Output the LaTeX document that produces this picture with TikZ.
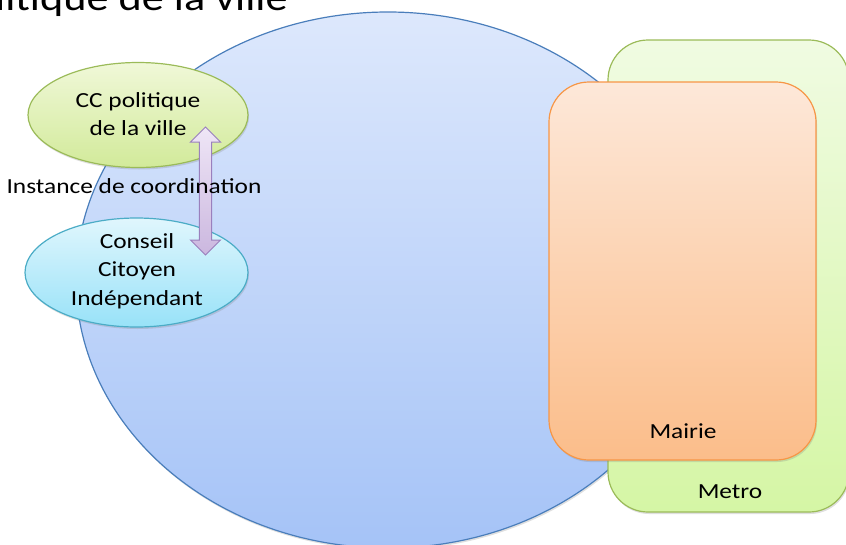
\documentclass[tikz,border=0pt]{standalone}
\usepackage{fontspec}
\setmainfont{Carlito}[FakeStretch=1.18]
\usetikzlibrary{calc,shadows}
\definecolor{circtop}{HTML}{DDE8FC}
\definecolor{circbot}{HTML}{A5C3F7}
\definecolor{circline}{HTML}{4A7EBB}
\definecolor{mettop}{HTML}{F0FBE2}
\definecolor{metbot}{HTML}{D5F6A5}
\definecolor{metline}{HTML}{9BBB59}
\definecolor{maitop}{HTML}{FDE8D9}
\definecolor{maibot}{HTML}{FBBD8A}
\definecolor{mailine}{HTML}{F79646}
\definecolor{cctop}{HTML}{F0F8D8}
\definecolor{ccbot}{HTML}{D2EA9A}
\definecolor{cctop2}{HTML}{E0F6FD}
\definecolor{ccbot2}{HTML}{98E2F8}
\definecolor{cciline}{HTML}{4BACC6}
\definecolor{arrtop}{HTML}{EFE6F6}
\definecolor{arrbot}{HTML}{CBB7DF}
\definecolor{arrline}{HTML}{9A80BD}
\tikzset{
  x=1pt, y=-1pt,
  shad/.style={drop shadow={opacity=0.25, shadow xshift=1pt, shadow yshift=-2pt}},
  txt/.style={font=\fontsize{21.5}{28.5}\selectfont, align=center, text=black, inner sep=0pt},
  boxshape/.style={rectangle, rounded corners=40pt, line width=1.2pt, inner sep=0pt, shad},
  ellshape/.style={ellipse, line width=1.2pt, inner sep=0pt, shad},
}
\usetikzlibrary{shapes.geometric}
\begin{document}
\begin{tikzpicture}
\useasboundingbox (0,0) rectangle (846,544);
% big circle
\node[ellshape, draw=circline, top color=circtop, bottom color=circbot,
      minimum width=624pt, minimum height=536pt] (ville) at (388,280) {};
% Metro
\node[boxshape, draw=metline, top color=mettop, bottom color=metbot,
      minimum width=241pt, minimum height=472pt] (metro) at (728.5,276) {};
% Mairie
\node[boxshape, draw=mailine, top color=maitop, bottom color=maibot,
      minimum width=267pt, minimum height=378pt] (mairie) at (682.5,271) {};
% ellipses
\node[ellshape, draw=metline, top color=cctop, bottom color=ccbot,
      minimum width=220pt, minimum height=105pt] (cc) at (138,115) {};
\node[ellshape, draw=cciline, top color=cctop2, bottom color=ccbot2,
      minimum width=223pt, minimum height=109pt] (conseil) at (136.5,272.5) {};
% double arrow
\coordinate (atop) at (205.5,127);
\coordinate (abot) at (205.5,255);
\draw[line width=1pt, draw=arrline, top color=arrtop, bottom color=arrbot]
  (atop) -- ($(atop)+(15,15)$) -- ($(atop)+(6.2,15)$) -- ($(abot)+(6.2,-15)$)
  -- ($(abot)+(15,-15)$) -- (abot) -- ($(abot)+(-15,-15)$) -- ($(abot)+(-6.2,-15)$)
  -- ($(atop)+(-6.2,15)$) -- ($(atop)+(-15,15)$) -- cycle;
% texts
\node[txt] (cctext) at (138,114) {CC politique\\de la ville};
\node[txt] (inst) at (134,186) {Instance de coordination};
\node[txt] (context) at (137,271) {Conseil\\Citoyen\\Indépendant};
\node[txt] (mairietext) at (683,431) {Mairie};
\node[txt] (metrotext) at (730,492) {Metro};
\node[font=\fontsize{37.5}{40}\selectfont, anchor=base east, inner sep=0pt] (title) at (288,10) {politique de la ville};
\end{tikzpicture}
\end{document}
